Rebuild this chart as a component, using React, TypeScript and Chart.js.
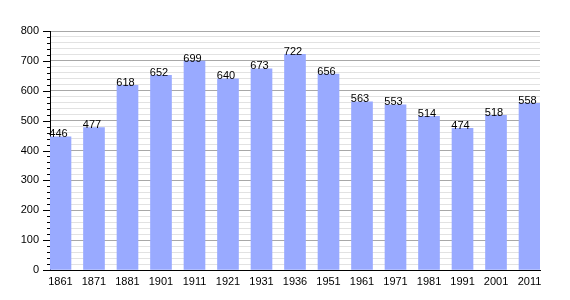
import React, { useEffect, useRef } from "react";
import { Chart, registerables } from "chart.js";

Chart.register(...registerables);

const years = ["1861", "1871", "1881", "1901", "1911", "1921", "1931", "1936", "1951", "1961", "1971", "1981", "1991", "2001", "2011"];
const population = [446, 477, 618, 652, 699, 640, 673, 722, 656, 563, 553, 514, 474, 518, 558];

const FONT = "'Liberation Sans', Arial, sans-serif";

const valueLabels = {
  id: "valueLabels",
  afterDatasetsDraw(chart: any) {
    const ctx = chart.ctx;
    const meta = chart.getDatasetMeta(0);
    ctx.save();
    ctx.font = `11px ${FONT}`;
    ctx.fillStyle = "#000";
    ctx.textAlign = "center";
    ctx.textBaseline = "alphabetic";
    meta.data.forEach((bar: any, i: number) => {
      ctx.fillText(String(population[i]), bar.x - 2, bar.y + 0.5);
    });
    ctx.restore();
  },
};

const yTickMarks = {
  id: "yTickMarks",
  afterDraw(chart: any) {
    const ctx = chart.ctx;
    const y = chart.scales.y;
    const left = chart.chartArea.left;
    ctx.save();
    ctx.strokeStyle = "#000";
    ctx.lineWidth = 1;
    y.ticks.forEach((t: any) => {
      const py = Math.round(y.getPixelForValue(t.value)) + 0.5;
      const len = t.value % 100 === 0 ? 7 : 3;
      ctx.beginPath();
      ctx.moveTo(left - len, py);
      ctx.lineTo(left, py);
      ctx.stroke();
    });
    ctx.restore();
  },
};

export default function App() {
  const ref = useRef<HTMLCanvasElement>(null);
  useEffect(() => {
    document.body.style.margin = "0";
    const half = 0.313;
    const chart = new Chart(ref.current!, {
      type: "bar",
      data: {
        datasets: [
          {
            data: population.map((v, i) => ({ x: i, y: v })),
            backgroundColor: "#99aaff",
            barThickness: 21,
          },
        ],
      },
      options: {
        animation: false,
        responsive: false,
        maintainAspectRatio: false,
        layout: { padding: { top: 31, right: 30, left: 0, bottom: 0 } },
        plugins: { legend: { display: false }, tooltip: { enabled: false } },
        scales: {
          x: {
            type: "linear",
            offset: false,
            min: -half,
            max: years.length - 1 + half,
            afterBuildTicks(scale: any) {
              scale.ticks = years.map((_, i) => ({ value: i }));
            },
            afterFit(scale: any) {
              scale.height = 30;
            },
            grid: { display: false, drawTicks: false, offset: false },
            border: { display: true, color: "#000", width: 1 },
            ticks: {
              autoSkip: false,
              maxRotation: 0,
              padding: 5,
              color: "#000",
              font: { family: FONT, size: 11 },
              callback: (v: any) => years[v as number] ?? "",
            },
          },
          y: {
            min: 0,
            max: 800,
            afterFit(scale: any) {
              scale.width = 50;
            },
            border: { display: true, color: "#000", width: 1 },
            grid: {
              color: (c: any) => (c.tick && c.tick.value % 100 === 0 ? "#a8a8a8" : "#e2e2e2"),
              drawTicks: false,
              lineWidth: 1,
            },
            ticks: {
              stepSize: 20,
              autoSkip: false,
              padding: 11,
              color: "#000",
              font: { family: FONT, size: 11 },
              callback: (v: any) => ((v as number) % 100 === 0 ? String(v) : ""),
            },
          },
        },
      },
      plugins: [valueLabels, yTickMarks],
    });
    return () => chart.destroy();
  }, []);
  return (
    <div style={{ position: "absolute", left: 0, top: 0, width: 570, height: 300, background: "#fff" }}>
      <canvas ref={ref} width={570} height={300} style={{ width: 570, height: 300 }} />
    </div>
  );
}
